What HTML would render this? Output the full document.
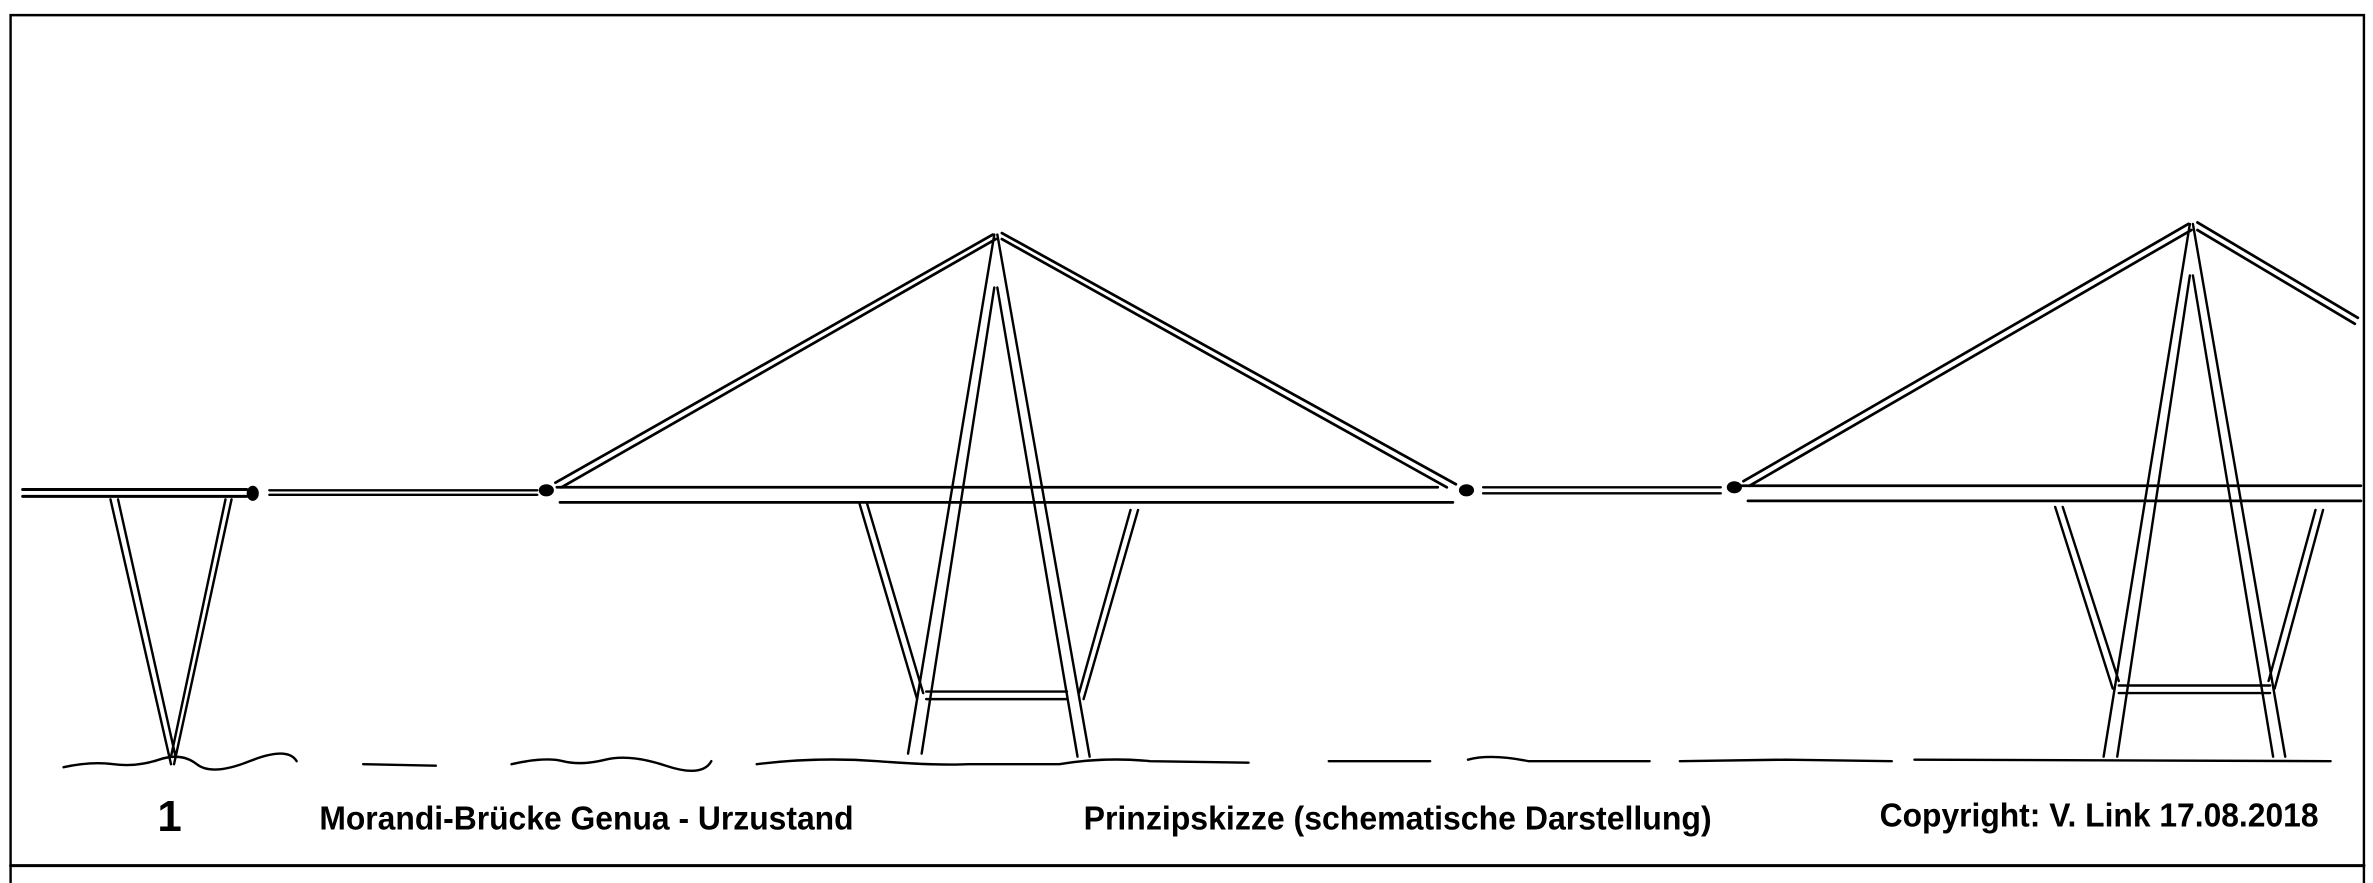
<!DOCTYPE html>
<html><head><meta charset="utf-8"><style>
html,body{margin:0;padding:0;background:#fff;}
svg{display:block;}
text{font-family:"Liberation Sans",sans-serif;font-weight:bold;fill:#000;}
</style></head><body>
<svg width="2373" height="883" viewBox="0 0 1568 583.5" preserveAspectRatio="none" xmlns="http://www.w3.org/2000/svg">
<rect x="0" y="0" width="1568" height="583.5" fill="#fff"/>
<g fill="none" stroke="#000" stroke-width="1.6" stroke-linecap="round">
<path d="M7 583 L7 10 L1562 10 L1562 583"/>
<path d="M7 572 L1562 572" stroke-width="2"/>
<path d="M15 323.5 L163 323.5 M15 328 L163 328" stroke-width="2"/>
<path d="M178 324 L355 324 M178 327 L355 327"/>
<path d="M73 330 L113 505 M78 330 L116 500 M153 330 L115 505 M149 330 L113 500"/>
<path d="M368 322 L950 322 M370 332 L960 332" stroke-width="1.8"/>
<path d="M367 319 L656 155 M371 322 L658 158" stroke-width="1.8"/>
<path d="M662 154 L962 320 M662 158 L956 322" stroke-width="1.8"/>
<path d="M657 155 L600 498 M657 190 L609 498 M659 155 L720 500 M659 190 L712 500"/>
<path d="M568 333 L606 462 M573 333 L610 458 M752 337 L716 462 M747 337 L713 458"/>
<path d="M612 457 L705 457 M612 462 L705 462"/>
<path d="M980 322 L1137 322 M980 326 L1137 326"/>
<path d="M1150 321 L1560 321 M1155 331 L1560 331" stroke-width="1.8"/>
<path d="M1152 318 L1446 148 M1156 321 L1448 152" stroke-width="1.8"/>
<path d="M1452 147 L1558 210 M1452 152 L1556 214" stroke-width="1.8"/>
<path d="M1447 148 L1390 500 M1447 182 L1399 500 M1449 148 L1510 500 M1449 182 L1502 500"/>
<path d="M1358 335 L1396 455 M1363 335 L1400 450 M1535 337 L1503 455 M1530 337 L1499 450"/>
<path d="M1400 453 L1500 453 M1400 458 L1500 458"/>
<path d="M42 507 Q60 503 75 505 T105 502 T130 505 T165 503 T196 503"/>
<path d="M240 505 L288 506 M338 505 Q360 500 372 503 T400 502 T440 506 T470 503"/>
<path d="M500 505 Q540 500 580 503 T640 505 L700 505 Q730 500 760 503 L825 504"/>
<path d="M878 503 L945 503 M970 502 Q985 498 1010 503 L1090 503 M1110 503 L1180 502 L1250 503 M1265 502 L1540 503"/>
</g>
<g fill="#000">
<ellipse cx="167" cy="326" rx="4" ry="5"/>
<ellipse cx="361" cy="324" rx="5" ry="4"/>
<ellipse cx="969" cy="324" rx="5" ry="4"/>
<ellipse cx="1146" cy="322" rx="5" ry="4"/>
</g>
<text x="104" y="549" font-size="29">1</text>
<text x="211" y="548" font-size="22" textLength="353" lengthAdjust="spacingAndGlyphs">Morandi-Brücke Genua - Urzustand</text>
<text x="716" y="548" font-size="22" textLength="415" lengthAdjust="spacingAndGlyphs">Prinzipskizze (schematische Darstellung)</text>
<text x="1242" y="546" font-size="22" textLength="290" lengthAdjust="spacingAndGlyphs">Copyright: V. Link 17.08.2018</text>
</svg>
</body></html>
